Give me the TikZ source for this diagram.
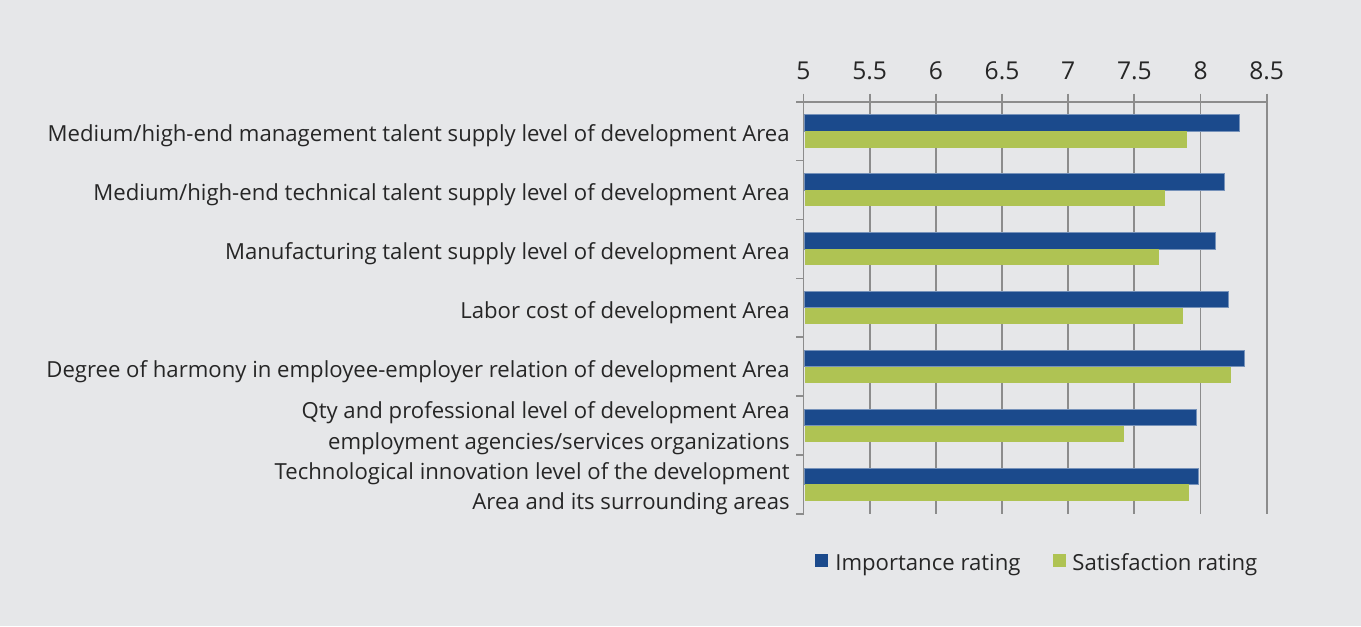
\documentclass[tikz,border=0pt]{standalone}
\usepackage{fontspec}
\setmainfont{Open Sans}
\usetikzlibrary{positioning}
\definecolor{chartbg}{HTML}{E6E7E9}
\definecolor{impblue}{HTML}{1B4A8C}
\definecolor{satgreen}{HTML}{AFC353}
\definecolor{gridgray}{HTML}{8C8C8C}
\definecolor{labeltext}{HTML}{262626}

\begin{document}
\begin{tikzpicture}[x=0.02cm,y=-0.02cm,
    chartfont/.style={font=\fontsize{12.6}{17.4}\selectfont,text=labeltext,inner sep=0pt},
    catlabel/.style={chartfont,anchor=base east,align=right},
    twolabel/.style={chartfont,anchor=east,align=right},
    ticklabel/.style={chartfont,font=\fontsize{14}{17}\selectfont,anchor=base},
    gridline/.style={draw=gridgray,line width=1pt},
    impbar/.style={fill=impblue,draw=impblue!60!white,line width=0.3pt},
    satbar/.style={fill=satgreen},
    legkey/.style={minimum size=0.26cm,inner sep=0pt,draw=none}]
    % Background of the chart
    \useasboundingbox[fill=chartbg] (0,0) rectangle (1361,626);

    % Drawing grid lines with tick labels
    \foreach \v [count=\i from 0] in {5,5.5,6,6.5,7,7.5,8,8.5} {
        \draw[gridline] ({803.5+\i*66.17},93.5) -- ({803.5+\i*66.17},514);
        \node[ticklabel] (tick\i) at ({803.5+\i*66.17},79) {\v};
    }

    % Drawing top axis and category ticks
    \draw[gridline] (796,101.7) -- (1266.7,101.7);
    \foreach \i in {1,...,7}
        \draw[gridline] (796,{101.7+\i*58.9}) -- (803.5,{101.7+\i*58.9});

    % Drawing bars: importance / satisfaction
    \foreach \imp/\sat [count=\i from 0] in {8.29/7.90,8.18/7.73,8.11/7.69,8.21/7.87,8.33/8.23,7.97/7.42,7.98/7.91} {
        \filldraw[impbar] (804.5,{114.7+\i*58.9}) rectangle ({803.5+(\imp-5)*132.3},{131+\i*58.9});
        \fill[satbar] (804.5,{131+\i*58.9}) rectangle ({803.5+(\sat-5)*132.3},{147.5+\i*58.9});
    }

    % Marking category labels
    \node[catlabel] (cat1) at (790,141.5) {Medium/high-end management talent supply level of development Area};
    \node[catlabel] (cat2) at (790,200.4) {Medium/high-end technical talent supply level of development Area};
    \node[catlabel] (cat3) at (790,259.3) {Manufacturing talent supply level of development Area};
    \node[catlabel] (cat4) at (790,318.2) {Labor cost of development Area};
    \node[catlabel] (cat5) at (790,377.1) {Degree of harmony in employee-employer relation of development Area};
    \node[twolabel] (cat6) at (790,427.9) {Qty and professional level of development Area\\employment agencies/services organizations};
    \node[twolabel] (cat7) at (790,488.8) {Technological innovation level of the development\\Area and its surrounding areas};

    % Legend
    \node[legkey,fill=impblue] (impkey) at (821.5,560) {};
    \node[chartfont,anchor=base west] (implabel) at (835,570) {Importance rating};
    \node[legkey,fill=satgreen] (satkey) at (1059.5,560) {};
    \node[chartfont,anchor=base west] (satlabel) at (1072,570) {Satisfaction rating};
\end{tikzpicture}
\end{document}
